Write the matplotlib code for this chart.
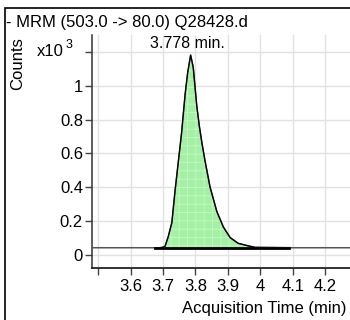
import matplotlib
matplotlib.use("Agg")
import matplotlib.pyplot as plt
from matplotlib.patches import Rectangle

plt.rcParams['font.family'] = ['Liberation Sans', 'DejaVu Sans']
plt.rcParams['hatch.linewidth'] = 0.6

# chromatogram trace, counts in x10^3
times = [3.48, 3.60, 3.69, 3.700, 3.706, 3.716, 3.727, 3.737, 3.747, 3.757, 3.768,
         3.776, 3.785, 3.793, 3.804, 3.812, 3.820, 3.829, 3.845, 3.866, 3.886, 3.907,
         3.932, 3.963, 3.980, 4.10, 4.28]
counts = [0.041, 0.041, 0.041, 0.044, 0.050, 0.107, 0.19, 0.38, 0.55, 0.72, 0.95,
          1.08, 1.182, 1.11, 0.88, 0.76, 0.66, 0.56, 0.40, 0.255, 0.164, 0.101,
          0.067, 0.052, 0.045, 0.041, 0.041]
baseline_level = 0.041
integ_start, integ_end = 3.676, 4.09
peak_rt = 3.778

xticks = [3.5, 3.6, 3.7, 3.8, 3.9, 4.0, 4.1, 4.2]
xlabels = ['', '3.6', '3.7', '3.8', '3.9', '4', '4.1', '4.2']
yticks = [0, 0.2, 0.4, 0.6, 0.8, 1.0, 1.2]
ylabels = ['0', '0.2', '0.4', '0.6', '0.8', '1', '']

fig = plt.figure(figsize=(3.5, 3.2), dpi=100)
ax = fig.add_axes([92 / 350, 1 - 268 / 320, 1 - 92 / 350, (268 - 35) / 320])

# signal trace
ax.plot(times, counts, color='#555555', lw=1.1, zorder=3)

# peak region
pk_t = [t for t in times if integ_start <= t <= 3.99]
pk_c = [c for t, c in zip(times, counts) if integ_start <= t <= 3.99]
ax.fill_between(pk_t, baseline_level, pk_c, color='#a4f0a4', lw=0, zorder=2)
ax.fill_between(pk_t, baseline_level, pk_c, facecolor='none', edgecolor='#c6f7c6',
                hatch='++', lw=0, zorder=2)
ax.plot(pk_t, pk_c, color='black', lw=0.9, zorder=4)
ax.plot([integ_start, integ_end], [baseline_level, baseline_level], color='black', lw=2, zorder=5)

ax.text(peak_rt - 0.003, 1.253, '3.778 min.', ha='center', va='center', fontsize=11.5)

ax.set_xlim(3.4805, 4.277)
ax.set_ylim(-0.079, 1.301)
ax.set_xticks(xticks)
ax.set_xticklabels(xlabels)
ax.set_yticks(yticks)
ax.set_yticklabels(ylabels)
ax.tick_params(axis='both', labelsize=12, length=5, width=1, color='#444444', direction='out')
ax.tick_params(axis='y', pad=1.5)
ax.tick_params(axis='x', pad=3)
ax.grid(True, color='#e2e2e2', lw=1)
ax.set_axisbelow(True)
for s in ['top', 'right']:
    ax.spines[s].set_visible(False)
ax.spines['left'].set_color('#333333')
ax.spines['bottom'].set_color('#111111')
ax.spines['left'].set_linewidth(1.1)
ax.spines['bottom'].set_linewidth(1.2)

fig.text(6 / 350, 1 - 22 / 320, '- MRM (503.0 -> 80.0) Q28428.d', ha='left', va='center', fontsize=12)
fig.text(18 / 350, 1 - 64 / 320, 'Counts', rotation=90, ha='center', va='center', fontsize=12)
fig.text(347 / 350, 1 - 308 / 320, 'Acquisition Time (min)', ha='right', va='center', fontsize=12)
fig.text(64 / 350, 1 - 51 / 320, 'x10', ha='right', va='center', fontsize=12)
fig.text(66 / 350, 1 - 45 / 320, '3', ha='left', va='center', fontsize=9)

fig.patches.append(Rectangle((5 / 350, -0.1), 1.2, 1.1 - 8 / 320, transform=fig.transFigure,
                             fill=False, edgecolor='black', lw=1.2))

fig.savefig('out.png', dpi=100)
